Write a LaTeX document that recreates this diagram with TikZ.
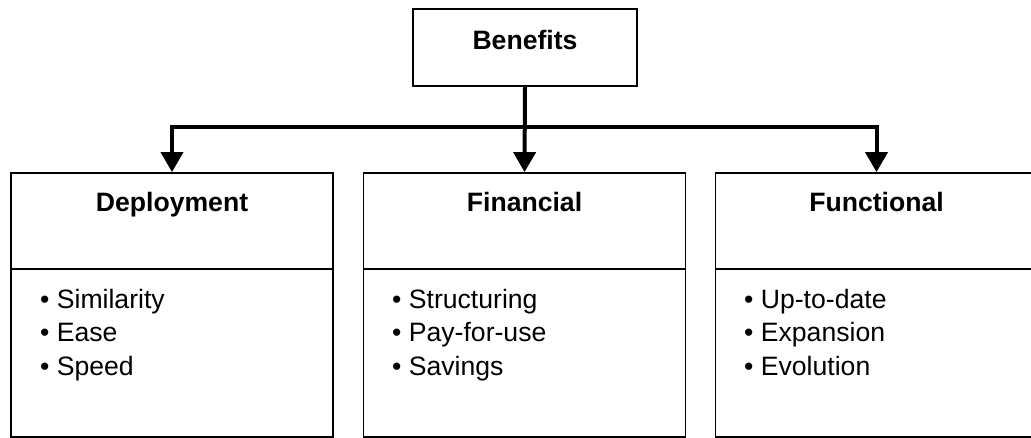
\documentclass[tikz,border=0pt]{standalone}
\usepackage{fontspec}
\setmainfont{Liberation Sans}
\usetikzlibrary{arrows.meta}
\begin{document}
\begin{tikzpicture}[x=1pt,y=-1pt,
  boxline/.style={draw=black, line width=1.8pt, inner sep=0pt},
  conn/.style={draw=black, line width=4pt, -{Triangle[width=22pt,length=20pt]}},
  bus/.style={draw=black, line width=4pt},
  head/.style={font=\fontsize{26.6}{33.5}\selectfont\bfseries, anchor=base, inner sep=0pt},
  items/.style={font=\fontsize{26.6}{33.5}\selectfont, align=left, anchor=north west, inner sep=0pt}]
\useasboundingbox (0,0) rectangle (1031,438);
% root
\node[boxline, minimum width=224pt, minimum height=77pt] (root) at (525,47.5) {};
\node[head] (rootlabel) at (525,50) {Benefits};
% lower boxes
\node[boxline, minimum width=322pt, minimum height=264pt] (dep) at (172,305) {};
\node[boxline, minimum width=322pt, minimum height=264pt] (fin) at (524.5,305) {};
\node[boxline, minimum width=322pt, minimum height=264pt] (fun) at (876.5,305) {};
\draw[boxline] (dep.west |- 0,269) -- (dep.east |- 0,269);
\draw[boxline] (fin.west |- 0,269) -- (fin.east |- 0,269);
\draw[boxline] (fun.west |- 0,269) -- (fun.east |- 0,269);
% headers
\node[head] (deph) at (172,212) {Deployment};
\node[head] (finh) at (524.5,212) {Financial};
\node[head] (funh) at (876.5,212) {Functional};
% items
\node[items] (depi) at (40,289) {• Similarity\\• Ease\\• Speed};
\node[items] (fini) at (392,289) {• Structuring\\• Pay-for-use\\• Savings};
\node[items] (funi) at (744,289) {• Up-to-date\\• Expansion\\• Evolution};
% connectors
\coordinate (junction) at (525,127);
\draw[conn] (root.south) -- (fin.north);
\draw[conn] (junction) -| (dep.north);
\draw[conn] (junction) -| (fun.north);
\end{tikzpicture}
\end{document}
